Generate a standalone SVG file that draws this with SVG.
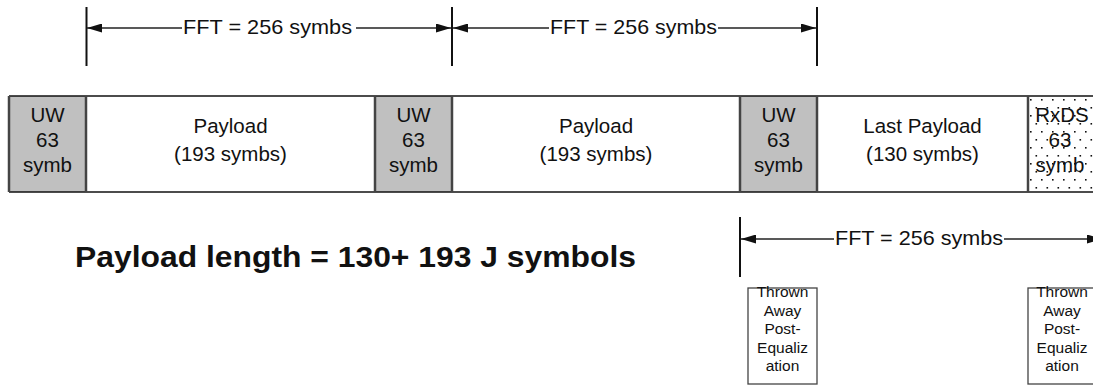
<svg xmlns="http://www.w3.org/2000/svg" width="1093" height="386" viewBox="0 0 1093 386">
<style>
text{font-family:"Liberation Sans",Arial,sans-serif;fill:#111}
.t{font-size:20.5px;text-anchor:middle}
.d{font-size:21px}
.s{font-size:15.5px;text-anchor:middle}
.big{font-size:29px;font-weight:bold}
.uw{fill:#c0c0c0;stroke:none}
.div{stroke:#444;stroke-width:2.5}
.rail{stroke:#111;stroke-width:1.6}
.dim{stroke:#222;stroke-width:1.3;fill:none}
.tick{stroke:#111;stroke-width:2}
.tb{fill:#fff;stroke:#444;stroke-width:1.3}
</style>
<defs>
<marker id="ah" viewBox="0 0 15 9" refX="15" refY="4.5" markerWidth="15" markerHeight="9" markerUnits="userSpaceOnUse" orient="auto-start-reverse">
<path d="M0,0 L15,4.5 L0,9 Z" fill="#111"/>
</marker>
<pattern id="dots" width="11" height="16" patternUnits="userSpaceOnUse" x="1028" y="96">
<rect x="2" y="3" width="1.6" height="1.6" fill="#111"/>
<rect x="7.5" y="11" width="1.6" height="1.6" fill="#111"/>
</pattern>
</defs>
<g id="connectors">
<line class="tick" x1="86.5" y1="7" x2="86.5" y2="66"/>
<line class="tick" x1="452" y1="7" x2="452" y2="66"/>
<line class="tick" x1="817" y1="7" x2="817" y2="66"/>
<line class="dim" x1="87" y1="28" x2="182" y2="28" marker-start="url(#ah)"/>
<line class="dim" x1="356" y1="28" x2="451" y2="28" marker-end="url(#ah)"/>
<line class="dim" x1="453" y1="28" x2="549" y2="28" marker-start="url(#ah)"/>
<line class="dim" x1="718" y1="28" x2="816" y2="28" marker-end="url(#ah)"/>
<line class="tick" x1="740" y1="217" x2="740" y2="277"/>
<line class="dim" x1="741" y1="239" x2="834" y2="239" marker-start="url(#ah)"/>
<line class="dim" x1="1004" y1="239" x2="1102" y2="239" marker-end="url(#ah)"/>
</g>
<g id="dim-labels">
<text class="d" x="183" y="34" textLength="169" lengthAdjust="spacingAndGlyphs">FFT = 256 symbs</text>
<text class="d" x="550" y="34" textLength="167" lengthAdjust="spacingAndGlyphs">FFT = 256 symbs</text>
<text class="d" x="835" y="245" textLength="168" lengthAdjust="spacingAndGlyphs">FFT = 256 symbs</text>
</g>
<g id="uw1">
<rect class="uw" x="9" y="96" width="77" height="96"/>
<text class="t" x="47.5" y="122">UW</text>
<text class="t" x="47.5" y="147">63</text>
<text class="t" x="47.5" y="172">symb</text>
</g>
<g id="payload1">
<text class="t" x="230.5" y="133">Payload</text>
<text class="t" x="230.5" y="161">(193 symbs)</text>
</g>
<g id="uw2">
<rect class="uw" x="375" y="96" width="77" height="96"/>
<text class="t" x="413.5" y="122">UW</text>
<text class="t" x="413.5" y="147">63</text>
<text class="t" x="413.5" y="172">symb</text>
</g>
<g id="payload2">
<text class="t" x="596" y="133">Payload</text>
<text class="t" x="596" y="161">(193 symbs)</text>
</g>
<g id="uw3">
<rect class="uw" x="740" y="96" width="77" height="96"/>
<text class="t" x="778.5" y="122">UW</text>
<text class="t" x="778.5" y="147">63</text>
<text class="t" x="778.5" y="172">symb</text>
</g>
<g id="lastpayload">
<text class="t" x="922.5" y="133">Last Payload</text>
<text class="t" x="922.5" y="161">(130 symbs)</text>
</g>
<g id="rxds">
<rect x="1028" y="96" width="70" height="96" fill="url(#dots)"/>
<text class="t" x="1062" y="122">RxDS</text>
<text class="t" x="1060" y="147">63</text>
<text class="t" x="1060" y="172">symb</text>
</g>
<g id="bar-lines">
<line class="rail" x1="9" y1="96" x2="1093" y2="96"/>
<line class="rail" x1="9" y1="192" x2="1093" y2="192"/>
<line class="div" x1="9" y1="96" x2="9" y2="192"/>
<line class="div" x1="86" y1="96" x2="86" y2="192"/>
<line class="div" x1="375" y1="96" x2="375" y2="192"/>
<line class="div" x1="452" y1="96" x2="452" y2="192"/>
<line class="div" x1="740" y1="96" x2="740" y2="192"/>
<line class="div" x1="817" y1="96" x2="817" y2="192"/>
<line class="div" x1="1028" y1="96" x2="1028" y2="192"/>
</g>
<g id="summary">
<text class="big" x="75" y="267" textLength="561" lengthAdjust="spacingAndGlyphs">Payload length = 130+ 193 J symbols</text>
</g>
<g id="thrown1">
<rect class="tb" x="748" y="288" width="69" height="96"/>
<text class="s" x="782.5" y="297">Thrown</text>
<text class="s" x="782.5" y="315.5">Away</text>
<text class="s" x="782.5" y="334">Post-</text>
<text class="s" x="782.5" y="352.5">Equaliz</text>
<text class="s" x="782.5" y="371">ation</text>
</g>
<g id="thrown2">
<rect class="tb" x="1028" y="288" width="69" height="96"/>
<text class="s" x="1062" y="297">Thrown</text>
<text class="s" x="1062" y="315.5">Away</text>
<text class="s" x="1062" y="334">Post-</text>
<text class="s" x="1062" y="352.5">Equaliz</text>
<text class="s" x="1062" y="371">ation</text>
</g>
</svg>
